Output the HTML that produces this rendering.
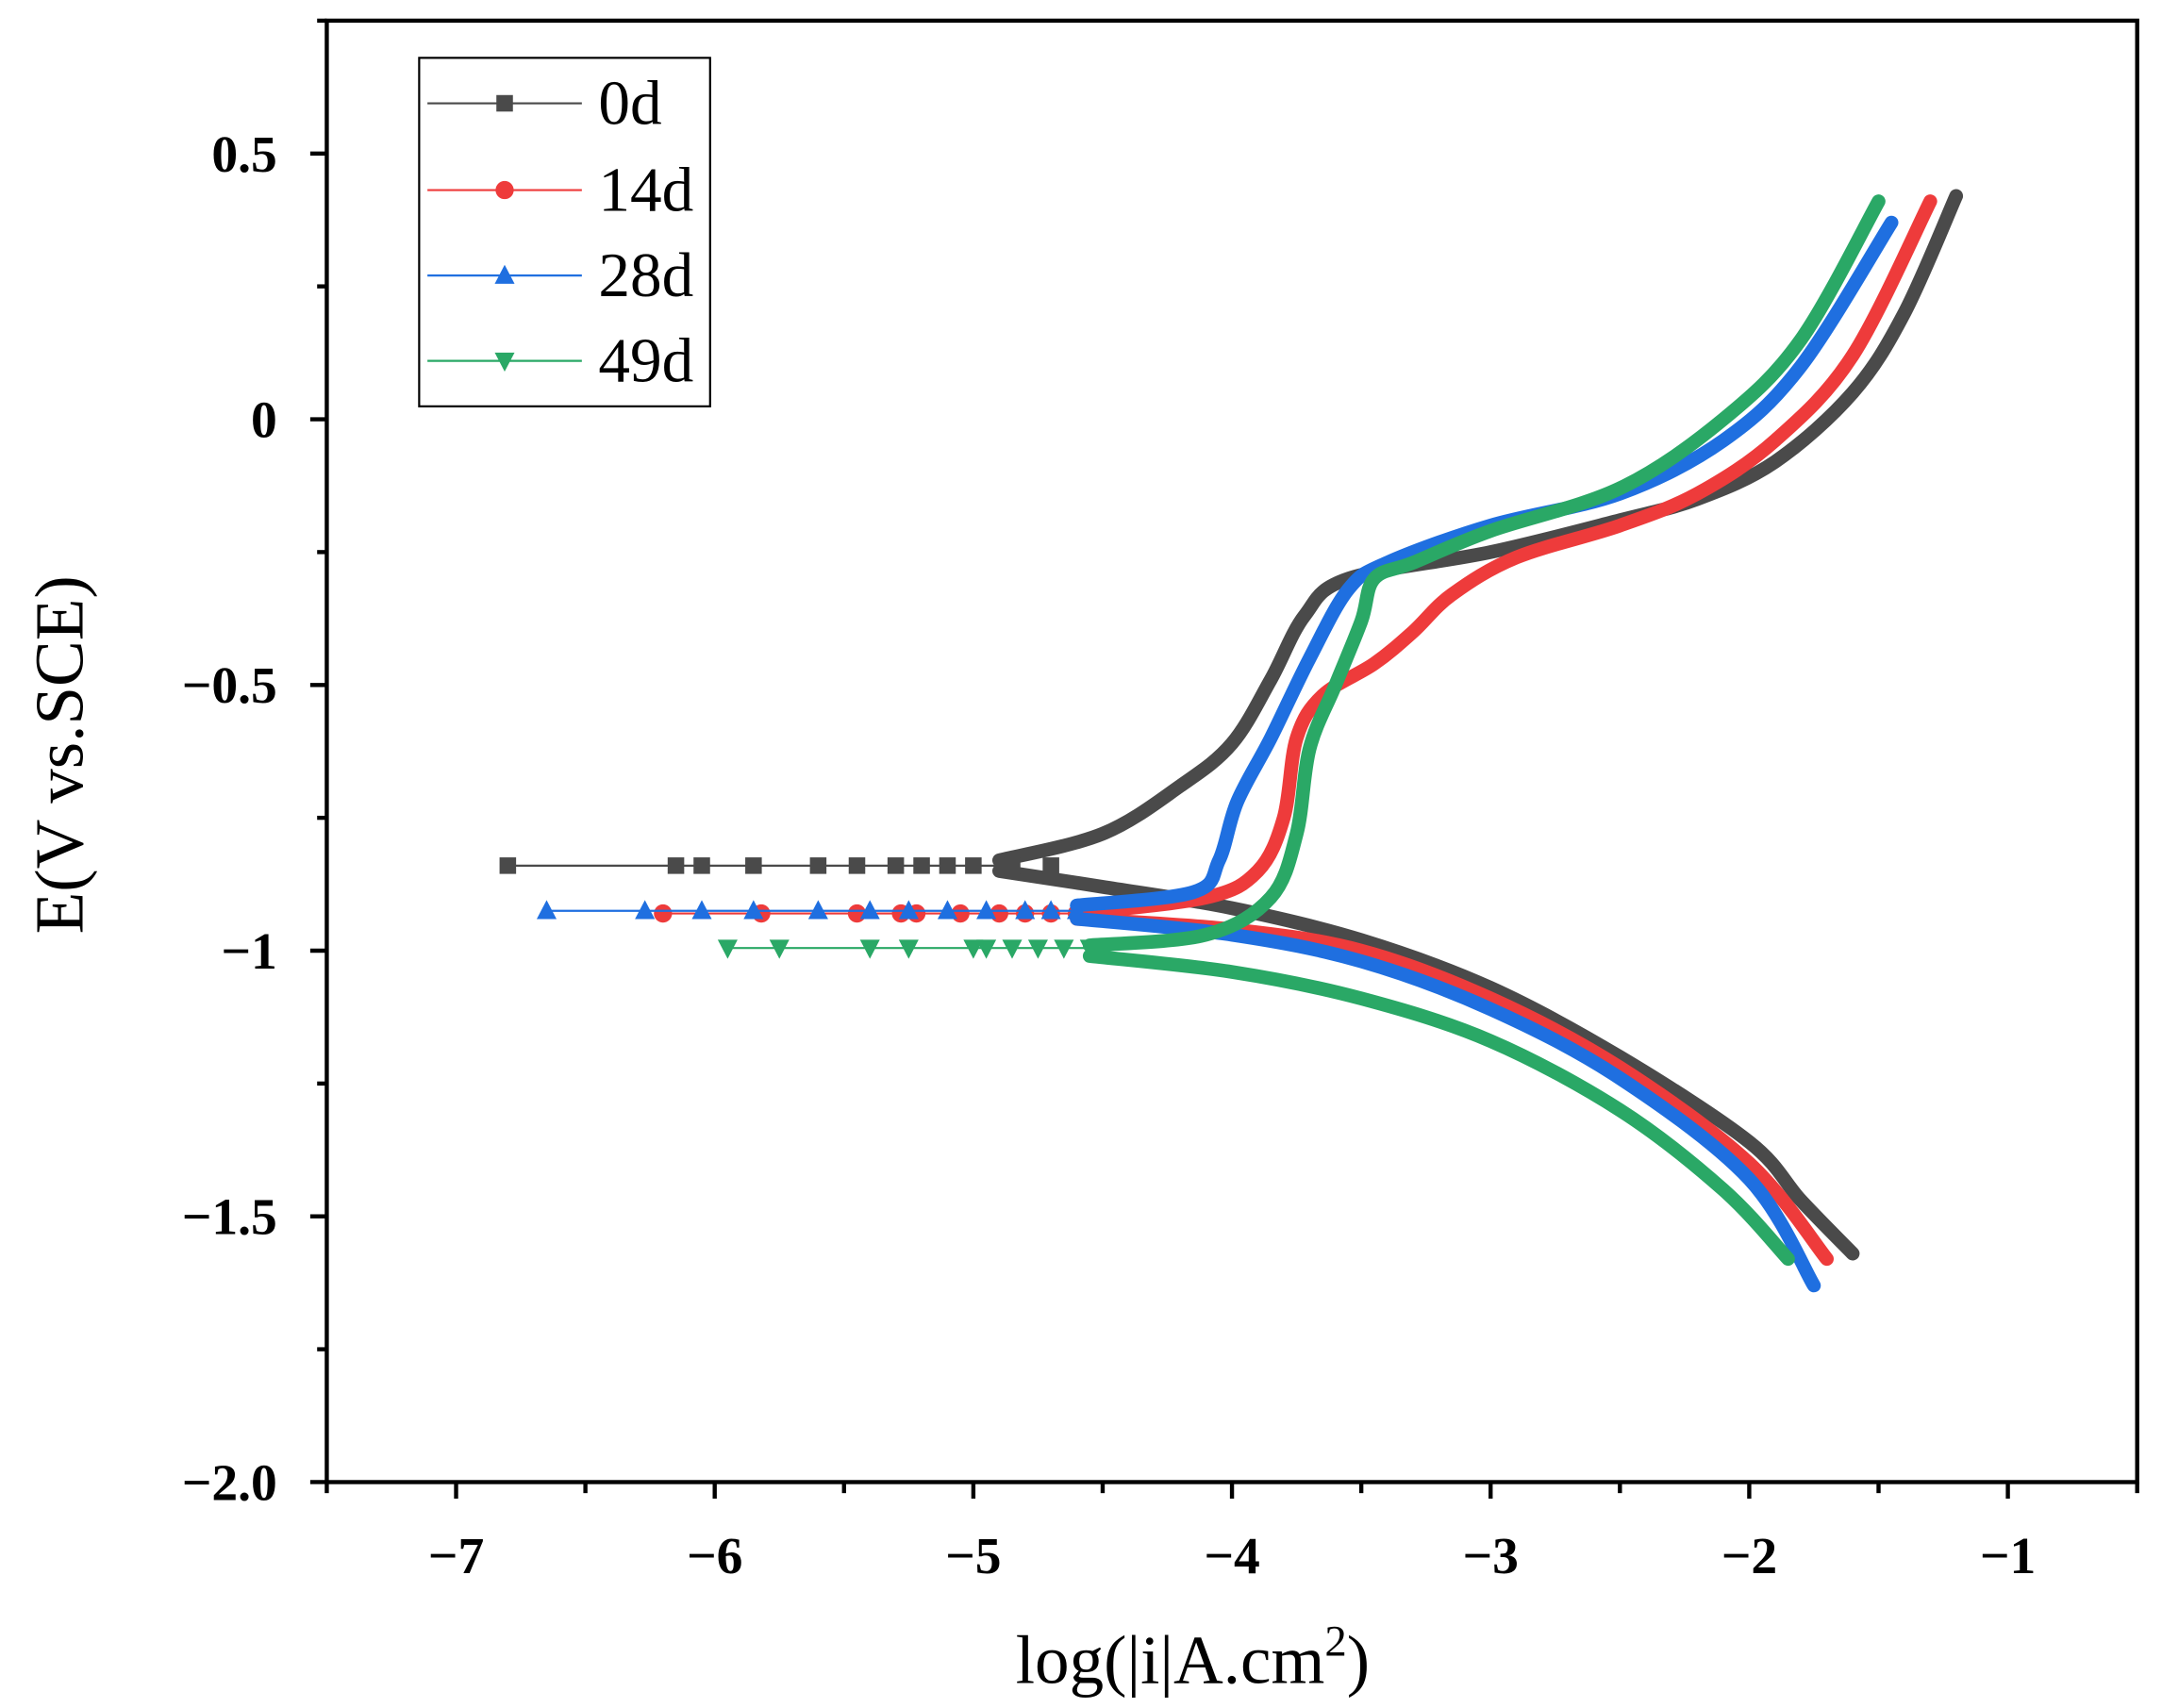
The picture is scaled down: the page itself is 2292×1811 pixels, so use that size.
<!DOCTYPE html>
<html><head><meta charset="utf-8"><style>
html,body{margin:0;padding:0;background:#fff}
svg{display:block}
text{font-family:"Liberation Serif",serif}
</style></head><body>
<svg id="chart" width="2292" height="1811" viewBox="0 0 1568 1240" preserveAspectRatio="none" xmlns="http://www.w3.org/2000/svg">
<g id="g"></g>
</svg>
<script>
const xTicks=[-7,-6,-5,-4,-3,-2,-1];
const yTicks=[0.5,0,-0.5,-1,-1.5,-2];
const yTickLabels=["0.5","0","\u22120.5","\u22121","\u22121.5","\u22122.0"];
const seriesNames=["0d","14d","28d","49d"];
const colors=["#4a4a4a","#ee3b3b","#1f6fe0","#2aa866"];
const ecorr=[-0.84,-0.93,-0.925,-0.995];
const flatStart=[-6.8,-6.2,-6.65,-5.95];
const markerX0=[-6.8,-6.15,-6.05,-5.85,-5.6,-5.45,-5.3,-5.2,-5.1,-5.0,-4.85,-4.7];
const markerX1=[-6.2,-5.82,-5.45,-5.28,-5.22,-5.05,-4.9,-4.8,-4.7,-4.6];
const markerX2=[-6.65,-6.27,-6.05,-5.85,-5.6,-5.4,-5.25,-5.1,-4.95,-4.8,-4.7,-4.6];
const markerX3=[-5.95,-5.75,-5.4,-5.25,-5.0,-4.95,-4.85,-4.75,-4.65,-4.55];
const anodic0=[[-4.9,-0.83],[-4.5,-0.78],[-4.2,-0.69],[-4.0,-0.61],[-3.85,-0.49],[-3.72,-0.37],[-3.55,-0.3],[-3.0,-0.25],[-2.5,-0.19],[-2.2,-0.15],[-1.9,-0.08],[-1.6,0.05],[-1.4,0.2],[-1.2,0.42]];
const cathodic0=[[-4.9,-0.85],[-4.5,-0.88],[-4,-0.92],[-3.5,-0.98],[-3,-1.07],[-2.5,-1.2],[-2.0,-1.36],[-1.8,-1.47],[-1.6,-1.57]];
const anodic1=[[-4.6,-0.93],[-4.1,-0.9],[-3.9,-0.85],[-3.8,-0.75],[-3.75,-0.6],[-3.65,-0.52],[-3.45,-0.46],[-3.3,-0.4],[-3.15,-0.33],[-2.9,-0.26],[-2.5,-0.2],[-2.2,-0.14],[-1.9,-0.04],[-1.6,0.12],[-1.3,0.41]];
const cathodic1=[[-4.6,-0.94],[-4,-0.96],[-3.5,-1.0],[-3,-1.09],[-2.5,-1.22],[-2,-1.4],[-1.7,-1.58]];
const anodic2=[[-4.6,-0.915],[-4.15,-0.89],[-4.05,-0.83],[-3.98,-0.72],[-3.85,-0.6],[-3.7,-0.45],[-3.55,-0.32],[-3.4,-0.27],[-3.0,-0.2],[-2.5,-0.14],[-2.1,-0.04],[-1.8,0.1],[-1.45,0.37]];
const cathodic2=[[-4.6,-0.94],[-4,-0.97],[-3.5,-1.02],[-3,-1.11],[-2.5,-1.24],[-2,-1.43],[-1.75,-1.63]];
const anodic3=[[-4.55,-0.99],[-4.1,-0.97],[-3.85,-0.9],[-3.75,-0.78],[-3.7,-0.62],[-3.6,-0.5],[-3.5,-0.38],[-3.45,-0.3],[-3.3,-0.27],[-3.0,-0.21],[-2.5,-0.13],[-2.1,0.0],[-1.8,0.15],[-1.5,0.41]];
const cathodic3=[[-4.55,-1.01],[-4,-1.04],[-3.5,-1.09],[-3,-1.17],[-2.5,-1.3],[-2.1,-1.45],[-1.85,-1.58]];

const L=237,R=1550,T=15,B=1076,xmin=-7.5,xmax=-0.5,ymin=-2,ymax=0.75;
const sx=v=>L+(v-xmin)/(xmax-xmin)*(R-L);
const sy=v=>B-(v-ymin)/(ymax-ymin)*(B-T);
const NS="http://www.w3.org/2000/svg";
const g=document.getElementById('g');
function mk(tag,attrs,parent){const e=document.createElementNS(NS,tag);for(const k in attrs)e.setAttribute(k,attrs[k]);(parent||g).appendChild(e);return e;}

function smoothPath(p){
  let d='M'+p[0][0]+','+p[0][1];
  for(let i=0;i<p.length-1;i++){
    const p0=p[Math.max(0,i-1)],p1=p[i],p2=p[i+1],p3=p[Math.min(p.length-1,i+2)];
    const c1x=p1[0]+(p2[0]-p0[0])/6,c1y=p1[1]+(p2[1]-p0[1])/6;
    const c2x=p2[0]-(p3[0]-p1[0])/6,c2y=p2[1]-(p3[1]-p1[1])/6;
    d+=` C${c1x},${c1y} ${c2x},${c2y} ${p2[0]},${p2[1]}`;
  }
  return d;
}

function marker(i,x,y,s,parent){
  const c=colors[i];let e;
  if(i===0) e=mk('rect',{x:x-s,y:y-s,width:2*s,height:2*s,fill:c},parent);
  else if(i===1) e=mk('circle',{cx:x,cy:y,r:s*1.1,fill:c},parent);
  else if(i===2) e=mk('polygon',{points:`${x},${y-s*1.3} ${x-s*1.2},${y+s} ${x+s*1.2},${y+s}`,fill:c},parent);
  else e=mk('polygon',{points:`${x},${y+s*1.3} ${x-s*1.2},${y-s} ${x+s*1.2},${y-s}`,fill:c},parent);
  return e;
}

const anod=[anodic0,anodic1,anodic2,anodic3],cath=[cathodic0,cathodic1,cathodic2,cathodic3];
const mks=[markerX0,markerX1,markerX2,markerX3];
for(let i=0;i<4;i++){
  const sg=mk('g',{});
  
  
  const ln=mk('line',{x1:sx(flatStart[i]),y1:sy(ecorr[i]),x2:sx(anod[i][0][0]),y2:sy(ecorr[i]),stroke:colors[i],'stroke-width':1.5},sg);
  
  
  for(const br of [anod[i],cath[i]]){
    const pts=br.map(p=>[sx(p[0]),sy(p[1])]);
    const pl=mk('path',{d:smoothPath(pts),fill:'none',stroke:colors[i],'stroke-width':10,'stroke-linejoin':'round','stroke-linecap':'round'},sg);
    
    
  }
  for(const x of mks[i]){
    const m=marker(i,sx(x),sy(ecorr[i]),6,sg);
    
    
  }
}

const fr=mk('rect',{x:L,y:T,width:R-L,height:B-T,fill:'none',stroke:'#000','stroke-width':3});


for(let v=-7.5;v<=-0.5+1e-9;v+=0.5){
  const major=Math.abs(v-Math.round(v))<1e-9;
  mk('line',{x1:sx(v),y1:B,x2:sx(v),y2:B+(major?12:8),stroke:'#000','stroke-width':3});
}
xTicks.forEach(v=>{
  const t=mk('text',{x:sx(v),y:B+66,'text-anchor':'middle','font-size':38,'font-weight':'bold'});
  t.textContent='\u2212'+Math.abs(v);
  
  
});
for(let v=-2;v<=0.75+1e-9;v+=0.25){
  const major=Math.abs(v*2-Math.round(v*2))<1e-9;
  mk('line',{x1:L,y1:sy(v),x2:L-(major?12:7),y2:sy(v),stroke:'#000','stroke-width':3});
}
yTicks.forEach((v,k)=>{
  const t=mk('text',{x:L-36,y:sy(v)+13,'text-anchor':'end','font-size':38,'font-weight':'bold'});
  t.textContent=yTickLabels[k];
  
  
});
const yt=mk('text',{x:0,y:0,transform:'translate(60,548) rotate(-90)','text-anchor':'middle','font-size':50});
yt.textContent='E(V vs.SCE)';


const xt=mk('text',{x:865,y:1222,'text-anchor':'middle','font-size':50});
xt.innerHTML='log(|i|A.cm<tspan dy="-20" font-size="32">2</tspan><tspan dy="20">)</tspan>';



const lg=mk('g',{});


mk('rect',{x:304,y:42,width:211,height:253,fill:'#fff',stroke:'#000','stroke-width':1.5},lg);
const ly=[75,138,200,262];
for(let i=0;i<4;i++){
  const e=mk('g',{},lg);
  
  
  mk('line',{x1:310,y1:ly[i],x2:422,y2:ly[i],stroke:colors[i],'stroke-width':1.5},e);
  marker(i,366,ly[i],6,e);
  const t=mk('text',{x:434,y:ly[i]+15,'font-size':46},e);
  t.textContent=seriesNames[i];
}
</script>
</body></html>
